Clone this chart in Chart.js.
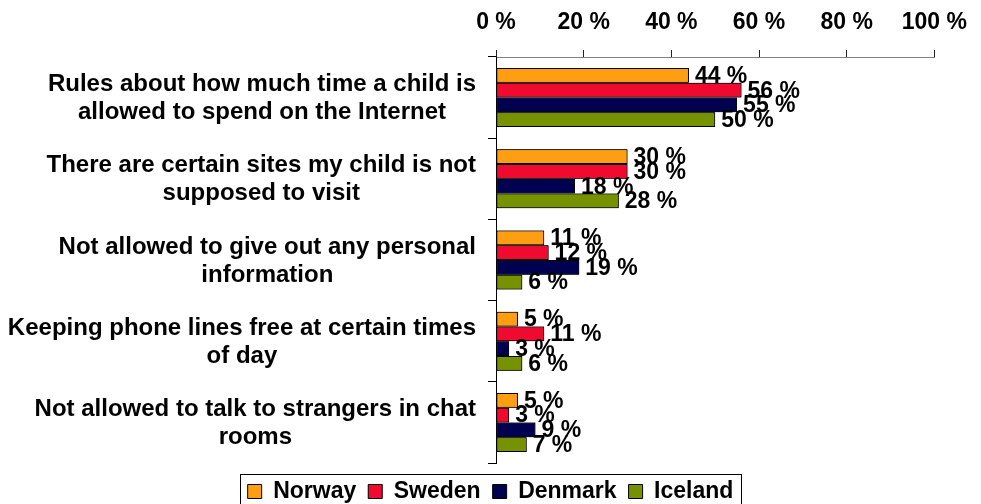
<!DOCTYPE html>
<html>
<head>
<meta charset="utf-8">
<script src="https://cdn.jsdelivr.net/npm/chart.js@4/dist/chart.umd.min.js"></script>
<style>
html,body{margin:0;padding:0;background:#fff;}
#wrap{width:981px;height:504px;position:relative;}
</style>
</head>
<body>
<div id="wrap"><canvas id="c" width="981" height="504"></canvas></div>
<script>
const categories = [
  ["Rules about how much time a child is", "allowed to spend on the Internet"],
  ["There are certain sites my child is not", "supposed to visit"],
  ["Not allowed to give out any personal", "information"],
  ["Keeping phone lines free at certain times", "of day"],
  ["Not allowed to talk to strangers in chat", "rooms"]
];
const seriesNames = ["Norway", "Sweden", "Denmark", "Iceland"];
const norway  = [44, 30, 11, 5, 5];
const sweden  = [56, 30, 12, 11, 3];
const denmark = [55, 18, 19, 3, 9];
const iceland = [50, 28, 6, 6, 7];
const xTickLabels = ["0 %", "20 %", "40 %", "60 %", "80 %", "100 %"];

const seriesValues = [norway, sweden, denmark, iceland];
const seriesColors = ["#FF9E12", "#F00A30", "#000050", "#769200"];
const FONT = "'Liberation Sans', Arial, sans-serif";

Chart.defaults.font.family = FONT;
Chart.defaults.color = "#000";

const layeredLabels = {
  id: "layeredLabels",
  afterDatasetsDraw(chart) {
    const ctx = chart.ctx;
    ctx.save();
    for (let i = 0; i < chart.data.datasets.length; i++) {
      const meta = chart.getDatasetMeta(i);
      meta.data.forEach(el => el.draw(ctx, chart.chartArea));
      ctx.font = "bold 23px " + FONT;
      ctx.fillStyle = "#000";
      ctx.textAlign = "left";
      ctx.textBaseline = "middle";
      meta.data.forEach((el, j) => {
        ctx.fillText(chart.data.datasets[i].data[j] + " %", el.x + 6, el.y + 1);
      });
    }
    ctx.restore();
  }
};

const categoryLabels = {
  id: "categoryLabels",
  afterDraw(chart) {
    const ctx = chart.ctx;
    const ys = chart.scales.y;
    ctx.save();
    ctx.font = "bold 24px " + FONT;
    ctx.fillStyle = "#000";
    ctx.textAlign = "center";
    ctx.textBaseline = "middle";
    const lineH = 28;
    chart.data.labels.forEach((lines, i) => {
      const maxW = Math.max(...lines.map(l => ctx.measureText(l).width));
      const cx = ys.right - 20 - maxW / 2;
      const py = ys.getPixelForTick(i) + 1;
      const y0 = py - (lines.length - 1) * lineH / 2;
      lines.forEach((l, k) => ctx.fillText(l, cx, y0 + k * lineH));
    });
    // legend frame
    const hb = chart.legend.legendHitBoxes;
    if (hb && hb.length) {
      const left = Math.round(hb[0].left - 8) + 0.5;
      const last = hb[hb.length - 1];
      const right = Math.round(last.left + last.width + 8) + 0.5;
      const top = Math.round(hb[0].top - 6) + 0.5;
      ctx.strokeStyle = "#000";
      ctx.lineWidth = 1;
      ctx.strokeRect(left, top, right - left, 60);
    }
    ctx.restore();
  }
};

new Chart(document.getElementById("c"), {
  type: "bar",
  data: {
    labels: categories,
    datasets: seriesNames.map((name, i) => ({
      label: name,
      data: seriesValues[i],
      backgroundColor: seriesColors[i],
      borderColor: "#000",
      borderWidth: 1,
      borderSkipped: false,
      categoryPercentage: 0.727,
      barPercentage: 1
    }))
  },
  options: {
    indexAxis: "y",
    responsive: false,
    animation: false,
    devicePixelRatio: 1,
    layout: { padding: { top: 0, right: 40, bottom: -9, left: 40 } },
    scales: {
      x: {
        type: "linear",
        position: "top",
        min: 0,
        max: 100,
        ticks: {
          stepSize: 20,
          padding: 14,
          maxRotation: 0,
          color: "#000",
          font: { size: 23, weight: "bold" },
          callback: (v, i) => xTickLabels[i]
        },
        grid: { drawOnChartArea: false, drawTicks: true, tickLength: 7, color: "#222" },
        border: { display: true, color: "#808080", width: 1 },
        afterFit: s => { s.height = 57; }
      },
      y: {
        type: "category",
        position: "left",
        offset: true,
        ticks: { display: false },
        grid: { offset: true, drawOnChartArea: false, drawTicks: true, tickLength: 8, color: "#000" },
        border: { display: true, color: "#000", width: 1 },
        afterFit: s => { s.width = 456; }
      }
    },
    plugins: {
      tooltip: { enabled: false },
      legend: {
        position: "bottom",
        title: { display: true, text: "", padding: 0, font: { size: 5, lineHeight: 1 } },
        labels: {
          boxWidth: 14,
          boxHeight: 14,
          padding: 12,
          color: "#000",
          font: { size: 23, weight: "bold" }
        }
      }
    }
  },
  plugins: [layeredLabels, categoryLabels]
});
</script>
</body>
</html>
